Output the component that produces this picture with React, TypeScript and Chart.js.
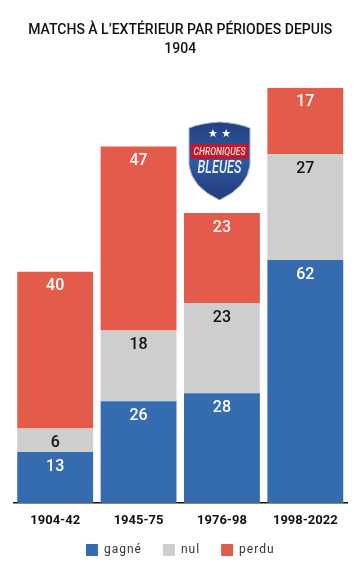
import React, { useEffect, useRef } from "react";
import { Chart, registerables } from "chart.js";

Chart.register(...registerables);

const categories = ["1904-42", "1945-75", "1976-98", "1998-2022"];
const gagne = [13, 26, 28, 62];
const nul = [6, 18, 23, 27];
const perdu = [40, 47, 23, 17];
const titleLines = ["MATCHS À L’EXTÉRIEUR PAR PÉRIODES DEPUIS", "1904"];
const FONT = "Roboto";

const segmentLabels = {
  id: "segmentLabels",
  afterDatasetsDraw(chart: any) {
    const ctx = chart.ctx;
    ctx.save();
    ctx.font = `500 16px ${FONT}`;
    ctx.textAlign = "center";
    ctx.textBaseline = "middle";
    chart.data.datasets.forEach((ds: any, i: number) => {
      chart.getDatasetMeta(i).data.forEach((el: any, j: number) => {
        ctx.fillStyle = ds.labelColor;
        ctx.fillText(String(ds.data[j]), el.x, el.y + 14.5);
      });
    });
    ctx.restore();
  },
};

const layoutTweaks = {
  id: "layoutTweaks",
  beforeLayout(chart: any) {
    const legend = chart.legend;
    if (!legend || legend.__spaced) return;
    legend.__spaced = true;
    const fit = legend.fit.bind(legend);
    const draw = legend.draw.bind(legend);
    legend.fit = () => {
      chart.ctx.save();
      chart.ctx.letterSpacing = "1px";
      fit();
      chart.ctx.restore();
    };
    legend.draw = () => {
      chart.ctx.save();
      chart.ctx.letterSpacing = "1px";
      draw();
      chart.ctx.restore();
    };
  },
  afterLayout(chart: any) {
    // tick labels are clipped to the scale box, so let it reach past their bottom edge
    chart.scales.x.bottom += 8;
  },
};

const logo = {
  id: "logo",
  afterDraw(chart: any) {
    const ctx = chart.ctx;
    const cx = 219.5;
    ctx.save();
    const shield = () => {
      ctx.beginPath();
      ctx.moveTo(cx, 122);
      ctx.quadraticCurveTo(cx + 18, 123, cx + 30.5, 128);
      ctx.lineTo(cx + 30.5, 165);
      ctx.quadraticCurveTo(cx + 28, 187, cx, 200);
      ctx.quadraticCurveTo(cx - 28, 187, cx - 30.5, 165);
      ctx.lineTo(cx - 30.5, 128);
      ctx.quadraticCurveTo(cx - 18, 123, cx, 122);
      ctx.closePath();
    };
    shield();
    const g = ctx.createLinearGradient(0, 122, 0, 200);
    g.addColorStop(0, "#24407f");
    g.addColorStop(0.5, "#2f5aa3");
    g.addColorStop(1, "#233a78");
    ctx.fillStyle = g;
    ctx.fill();
    ctx.strokeStyle = "#a9b8d4";
    ctx.lineWidth = 1;
    ctx.stroke();
    ctx.fillStyle = "#c01a2a";
    ctx.fillRect(cx - 29, 144, 58, 15);
    ctx.fillStyle = "#ffffff";
    ctx.textAlign = "center";
    ctx.textBaseline = "middle";
    ctx.font = `11px "DejaVu Sans"`;
    ctx.fillText("★ ★", cx, 134);
    ctx.font = `italic 500 11px "Liberation Sans Narrow", ${FONT}`;
    ctx.fillStyle = "#f3d9d9";
    ctx.fillText("CHRONIQUES", cx, 152, 52);
    ctx.font = `italic 500 18px "Liberation Sans Narrow", ${FONT}`;
    ctx.fillStyle = "#e8eef8";
    ctx.fillText("BLEUES", cx, 168.5, 44);
    ctx.restore();
  },
};

export default function App() {
  const ref = useRef<HTMLCanvasElement>(null);
  useEffect(() => {
    const chart = new Chart(ref.current as HTMLCanvasElement, {
      type: "bar",
      data: {
        labels: categories,
        datasets: [
          { label: "gagné", data: gagne, backgroundColor: "#356CB0", labelColor: "#ffffff" },
          { label: "nul", data: nul, backgroundColor: "#CECECE", labelColor: "#111111" },
          { label: "perdu", data: perdu, backgroundColor: "#E35B4A", labelColor: "#ffffff" },
        ] as any,
      },
      options: {
        responsive: false,
        animation: false,
        layout: { padding: { left: 13.5, right: 8, top: 20.5, bottom: 0 } },
        datasets: { bar: { categoryPercentage: 1, barPercentage: 0.91 } },
        scales: {
          x: {
            stacked: true,
            afterFit(scale: any) {
              scale.height = 20;
            },
            grid: { display: false, drawTicks: false },
            border: { display: true, color: "#111111", width: 1.5 },
            ticks: {
              color: "#111111",
              font: { family: FONT, size: 13, weight: 700, lineHeight: 0.5 },
              padding: 14,
              maxRotation: 0,
            },
          },
          y: { stacked: true, display: false, min: 0, max: 106 },
        },
        plugins: {
          title: {
            display: true,
            text: titleLines,
            color: "#111111",
            font: { family: FONT, size: 14, weight: 500, lineHeight: 1.4 },
            padding: { top: 0, bottom: 28 },
          },
          legend: {
            position: "bottom",
            maxHeight: 41,
            labels: {
              boxWidth: 12,
              boxHeight: 12,
              padding: 21,
              color: "#333333",
              font: { family: FONT, size: 12 },
            },
          },
          tooltip: { enabled: false },
        },
      } as any,
      plugins: [layoutTweaks, segmentLabels, logo],
    });
    return () => chart.destroy();
  }, []);
  return (
    <div style={{ position: "fixed", left: 0, top: 0, width: 355, height: 564, background: "#fff" }}>
      <canvas ref={ref} width={355} height={564} style={{ display: "block" }} />
    </div>
  );
}
